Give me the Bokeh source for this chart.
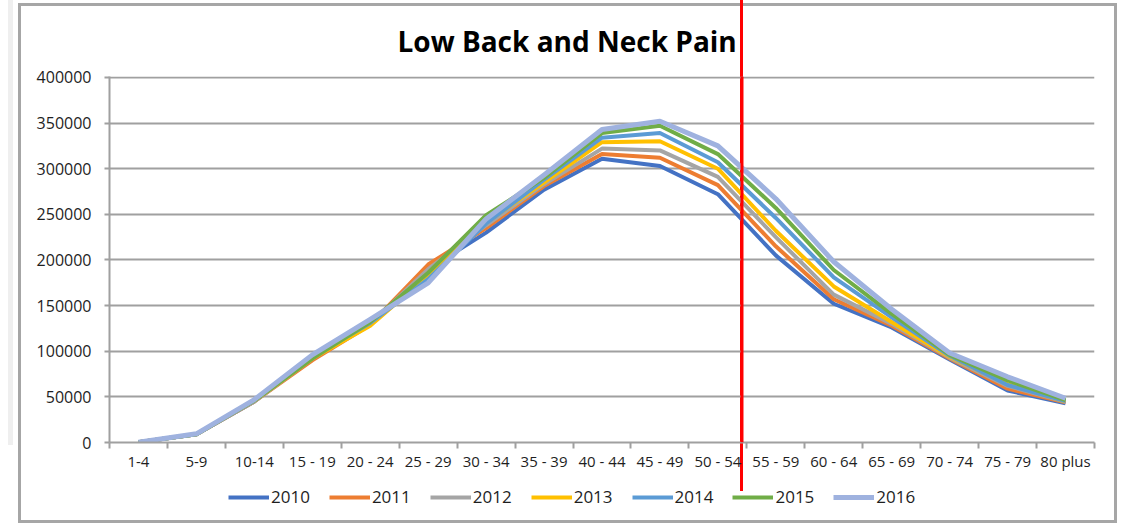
import numpy as np
from bokeh.plotting import figure
from bokeh.layouts import column
from bokeh.models import Range1d, FixedTicker, Legend, LegendItem, Span, NumeralTickFormatter
from bokeh.embed import file_html
from bokeh.resources import INLINE

# ---------------- data ----------------
age_groups = ["1-4", "5-9", "10-14", "15 - 19", "20 - 24", "25 - 29", "30 - 34", "35 - 39",
              "40 - 44", "45 - 49", "50 - 54", "55 - 59", "60 - 64", "65 - 69", "70 - 74",
              "75 - 79", "80 plus"]
years = ["2010", "2011", "2012", "2013", "2014", "2015", "2016"]

y2010 = [300, 9000, 45000, 93000, 130000, 190000, 230000, 277000, 311000, 303000, 272000, 205000, 152000, 126000, 91000, 57000, 43000]
y2011 = [300, 9000, 45000, 90000, 129000, 195000, 235000, 281000, 316000, 312000, 282000, 215000, 157000, 128000, 92000, 59000, 44000]
y2012 = [300, 9000, 45000, 92000, 130000, 190000, 238000, 283000, 322000, 320000, 291000, 225000, 162000, 130000, 93000, 62000, 44500]
y2013 = [300, 9000, 46000, 92000, 128000, 183000, 241000, 285000, 329000, 330000, 300000, 232000, 171000, 132000, 94000, 64000, 45000]
y2014 = [300, 9000, 46000, 94000, 131000, 179000, 240000, 288000, 334000, 339000, 307000, 246000, 181000, 137000, 95000, 63000, 45500]
y2015 = [300, 9000, 46000, 92000, 132000, 186000, 249000, 290000, 339000, 347000, 316000, 257000, 189000, 141000, 96000, 68000, 46500]
y2016 = [300, 9500, 47000, 96000, 135000, 175000, 245000, 293000, 343000, 352000, 325000, 267000, 198000, 146000, 98000, 72000, 48500]
series = [y2010, y2011, y2012, y2013, y2014, y2015, y2016]

y_ticks = [0, 50000, 100000, 150000, 200000, 250000, 300000, 350000, 400000]

colors = ["#4472C4", "#ED7D31", "#A5A5A5", "#FFC000", "#5B9BD5", "#70AD47", "#9FB2DF"]
widths = [4, 4, 4, 4, 4, 4, 5]

FONT = "Open Sans"
GRID = "#a0a0a0"
TEXT = "#1e1e1e"

n = len(age_groups)
xs = np.arange(n) + 0.5

# ---------------- main chart ----------------
p = figure(width=1120, height=479, x_range=Range1d(0, n), y_range=Range1d(0, 401000),
           output_backend="svg", toolbar_location=None,
           min_border_left=109, min_border_right=26, min_border_top=76, min_border_bottom=37)
p.outline_line_color = None
p.background_fill_alpha = 0
p.border_fill_alpha = 0

p.title.text = "Low Back and Neck Pain"
p.title.text_font = FONT
p.title.text_font_size = "28px"
p.title.text_font_style = "bold"
p.title.text_color = "#000000"
p.title.align = "left"
p.title.offset = 288
p.title.standoff = 34

# x axis: labels at category centres, tick marks at boundaries
xa = p.xaxis[0]
xa.ticker = FixedTicker(ticks=list(xs), minor_ticks=list(range(n + 1)))
xa.major_label_overrides = {float(x): lab for x, lab in zip(xs, age_groups)}
xa.major_tick_line_color = None
xa.major_tick_out = 0
xa.major_tick_in = 0
xa.minor_tick_line_color = GRID
xa.minor_tick_line_width = 2
xa.minor_tick_out = 6
xa.minor_tick_in = 0
xa.axis_line_color = GRID
xa.axis_line_width = 2
xa.major_label_text_font = FONT
xa.major_label_text_font_size = "15px"
xa.major_label_text_color = TEXT
xa.major_label_standoff = 2

# y axis
ya = p.yaxis[0]
ya.ticker = FixedTicker(ticks=y_ticks, minor_ticks=[])
ya.formatter = NumeralTickFormatter(format="0")
ya.axis_line_color = GRID
ya.axis_line_width = 2
ya.major_tick_line_color = GRID
ya.major_tick_line_width = 2
ya.major_tick_out = 5
ya.major_tick_in = 0
ya.minor_tick_line_color = None
ya.major_label_text_font = FONT
ya.major_label_text_font_size = "16px"
ya.major_label_text_color = TEXT
ya.major_label_standoff = 13

p.xgrid.grid_line_color = None
p.ygrid.ticker = FixedTicker(ticks=y_ticks)
p.ygrid.grid_line_color = GRID
p.ygrid.grid_line_width = 2

for vals, c, w in zip(series, colors, widths):
    p.line(xs, vals, line_color=c, line_width=w, line_join="round")

# red marker line across the plot area (drawn above the series)
MARKER_X = 10.916
p.add_layout(Span(location=MARKER_X, dimension="height", line_color="#ff0000",
                  line_width=3, level="overlay"))

# ---------------- legend strip ----------------
# same series, but this strip's ranges keep them out of view: only their legend swatches show
lg = figure(width=1120, height=45, x_range=Range1d(-2, -1), y_range=Range1d(-2, -1),
            output_backend="svg", toolbar_location=None,
            x_axis_location=None, y_axis_location=None,
            min_border_left=0, min_border_right=0, min_border_top=0, min_border_bottom=0)
lg.outline_line_color = None
lg.background_fill_alpha = 0
lg.border_fill_alpha = 0
lg.xgrid.grid_line_color = None
lg.ygrid.grid_line_color = None

items = []
for yr, vals, c, w in zip(years, series, colors, widths):
    r = lg.line(xs, vals, line_color=c, line_width=w)
    items.append(LegendItem(label=yr, renderers=[r]))

legend = Legend(items=items, orientation="horizontal", location=(119, 16),
                glyph_width=41, glyph_height=20, label_standoff=2, spacing=19,
                padding=0, margin=0, border_line_color=None, background_fill_alpha=0,
                label_text_font=FONT, label_text_font_size="17px", label_text_color=TEXT)
lg.add_layout(legend, "center")

layout = column(p, lg, spacing=0)
# chart-area frame, faint left stripe and the red marker line outside the plot area (CSS layers)
layout.styles = {
    "background-color": "white",
    "background-image": ", ".join(["linear-gradient(#ff0000, #ff0000)"] +
                                  ["linear-gradient(#a6a6a6, #a6a6a6)"] * 4 +
                                  ["linear-gradient(#efefef, #efefef)"]),
    "background-position": "740px 0px, 18px 3px, 1114px 3px, 18px 3px, 18px 520px, 8px 0px",
    "background-size": "3px 491px, 3px 520px, 3px 520px, 1099px 3px, 1099px 3px, 5px 445px",
    "background-repeat": "no-repeat",
}

open("out.html", "w").write(file_html(layout, INLINE))
